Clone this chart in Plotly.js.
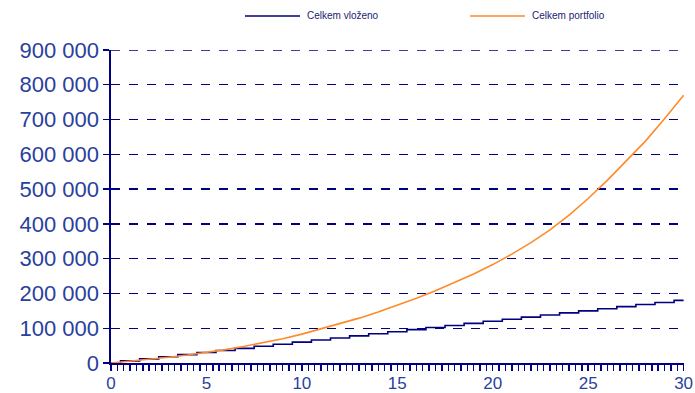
<!DOCTYPE html>
<html>
<head>
<meta charset="utf-8">
<script src="https://cdn.plot.ly/plotly-3.0.1.min.js"></script>
<style>html,body{margin:0;padding:0;background:#fff;}#chart{width:695px;height:393px;}</style>
</head>
<body>
<div id="chart"></div>
<script>
// Years
const years = [0,1,2,3,4,5,6,7,8,9,10,11,12,13,14,15,16,17,18,19,20,21,22,23,24,25,26,27,28,29,30];
// Celkem vloženo (cumulative contributions)
const vlozeno = [0,6000,12000,18000,24000,30000,36000,42000,48000,54000,60000,66000,72000,78000,84000,90000,96000,102000,108000,114000,120000,126000,132000,138000,144000,150000,156000,162000,168000,174000,180000];
// Celkem portfolio
const portfolio = [0,5000,10500,16500,23000,30000,38500,48000,58500,70000,83000,98000,113000,129000,146500,165500,186000,208000,231000,256000,283000,313000,346000,383000,425000,473000,525000,580000,638000,702000,770000];
const seriesNames = ["Celkem vloženo", "Celkem portfolio"];
const yTicks = [0,100000,200000,300000,400000,500000,600000,700000,800000,900000];
const xTicks = [0,5,10,15,20,25,30];

const navy = '#000080';
const orange = '#ff8a2a';
const labelColor = '#2a3f9e';

const traces = [
  {x: years, y: vlozeno, name: seriesNames[0], type: 'scatter', mode: 'lines',
   line: {color: navy, width: 1.6, shape: 'hvh'}, showlegend: false, cliponaxis: false},
  {x: years, y: portfolio, name: seriesNames[1], type: 'scatter', mode: 'lines',
   line: {color: orange, width: 1.6}, showlegend: false, cliponaxis: false}
];

const legY = (393 - 30 - 16) / 313;
const layout = {
  width: 695, height: 393,
  margin: {l: 111, r: 11, t: 50, b: 30},
  paper_bgcolor: '#fff', plot_bgcolor: '#fff',
  separators: ', ',
  font: {family: 'Liberation Sans, Arial, sans-serif', color: labelColor},
  xaxis: {
    range: [0, 30.02], tickvals: xTicks, ticktext: xTicks.map(String),
    showgrid: false, zeroline: false,
    showline: true, linecolor: navy, linewidth: 1.6,
    ticks: 'outside', ticklen: 6, tickwidth: 1.4, tickcolor: navy,
    ticklabelstandoff: -2,
    minor: {tickvals: years.flatMap(y => y < 30 ? [y, y + 1/3, y + 2/3] : [y]), ticks: 'outside', ticklen: 6, tickwidth: 1.4, tickcolor: navy, showgrid: false},
    tickfont: {size: 17, color: labelColor}
  },
  yaxis: {
    range: [0, 900000], tickvals: yTicks, tickformat: ',d',
    showgrid: true, gridcolor: navy, gridwidth: 1.3, griddash: 'dash',
    zeroline: false,
    showline: true, linecolor: navy, linewidth: 1.6,
    ticks: 'outside', ticklen: 6, tickwidth: 1.4, tickcolor: navy,
    tickfont: {size: 22, color: labelColor}
  },
  shapes: [
    {type: 'line', xref: 'paper', yref: 'y', x0: 0, x1: 1, y0: yTicks[yTicks.length - 1], y1: yTicks[yTicks.length - 1], line: {color: navy, width: 1.3, dash: 'dash'}, layer: 'below'},
    {type: 'line', xref: 'paper', yref: 'paper', x0: (245-111)/573, x1: (300-111)/573, y0: legY, y1: legY, line: {color: navy, width: 1.6}},
    {type: 'line', xref: 'paper', yref: 'paper', x0: (470-111)/573, x1: (525-111)/573, y0: legY, y1: legY, line: {color: orange, width: 1.6}}
  ],
  annotations: [
    {xref: 'paper', yref: 'paper', x: (305-111)/573, y: legY, xanchor: 'left', yanchor: 'middle', showarrow: false,
     text: seriesNames[0], font: {size: 10, color: '#1a2470'}},
    {xref: 'paper', yref: 'paper', x: (530-111)/573, y: legY, xanchor: 'left', yanchor: 'middle', showarrow: false,
     text: seriesNames[1], font: {size: 10, color: '#1a2470'}}
  ]
};

Plotly.newPlot('chart', traces, layout, {displayModeBar: false, staticPlot: true});
</script>
</body>
</html>
